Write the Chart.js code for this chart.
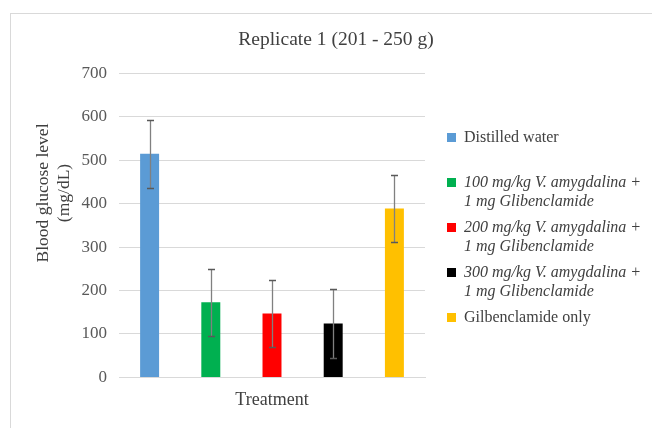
<!DOCTYPE html>
<html>
<head>
<meta charset="utf-8">
<script src="https://cdn.jsdelivr.net/npm/chart.js@4.4.0/dist/chart.umd.min.js"></script>
<style>
  html, body { margin: 0; padding: 0; background: #fff; }
  #wrap { position: relative; width: 652px; height: 428px; overflow: hidden; }
  #frame { position: absolute; left: 10px; top: 13px; width: 700px; height: 500px; border: 1px solid #d9d9d9; box-sizing: border-box; }
  #c { position: absolute; left: 0; top: 0; }
</style>
</head>
<body>
<div id="wrap">
  <div id="frame"></div>
  <canvas id="c" width="652" height="428"></canvas>
</div>
<script>
// data
const categories = [""];
const seriesLines = [
  ["Distilled water"],
  ["100 mg/kg V. amygdalina +", "1 mg Glibenclamide"],
  ["200 mg/kg V. amygdalina +", "1 mg Glibenclamide"],
  ["300 mg/kg V. amygdalina +", "1 mg Glibenclamide"],
  ["Gilbenclamide only"],
];
const seriesMeans = [515, 173, 147, 124, 389];
const seriesErrors = [78, 77, 78, 79, 77];
const yTicks = [0, 100, 200, 300, 400, 500, 600, 700];
const yTitleLines = ["Blood glucose level", "(mg/dL)"];

const colors = ["#5B9BD5", "#00B050", "#FF0000", "#000000", "#FFC000"];
const italicItems = [false, true, true, true, false];
const FONT = "'Liberation Serif', 'Times New Roman', serif";
const TEXT = "#404040";

// error bars from scale values
const errorBars = {
  id: "errorBars",
  afterDatasetsDraw(chart) {
    const ctx = chart.ctx;
    const y = chart.scales.y;
    ctx.save();
    chart.data.datasets.forEach((ds, i) => {
      const meta = chart.getDatasetMeta(i);
      meta.data.forEach((bar, j) => {
        const v = ds.data[j];
        const e = ds.errors[j];
        const top = Math.round(y.getPixelForValue(v + e)) + 0.5;
        const bot = Math.round(y.getPixelForValue(v - e)) + 0.5;
        const x = Math.round(bar.x) + 0.5;
        ctx.strokeStyle = "#808080";
        ctx.lineWidth = 1.3;
        ctx.beginPath();
        ctx.moveTo(x, top);
        ctx.lineTo(x, bot);
        ctx.stroke();
        ctx.strokeStyle = "#595959";
        ctx.beginPath();
        ctx.moveTo(x - 3.5, top);
        ctx.lineTo(x + 3.5, top);
        ctx.moveTo(x - 3.5, bot);
        ctx.lineTo(x + 3.5, bot);
        ctx.stroke();
      });
    });
    ctx.restore();
  },
};

// side legend with wrapped, partly italic labels
const sideLegend = {
  id: "sideLegend",
  afterDraw(chart) {
    const ctx = chart.ctx;
    const left = chart.chartArea.right + 22;
    ctx.save();
    ctx.textBaseline = "middle";
    ctx.textAlign = "left";
    chart.data.datasets.forEach((ds, i) => {
      const y0 = 137.5 + i * 45;
      ctx.fillStyle = ds.backgroundColor;
      ctx.fillRect(left, y0 - 4.5, 9, 9);
      ctx.fillStyle = TEXT;
      ctx.font = (ds.italic ? "italic " : "") + "16px " + FONT;
      ds.lines.forEach((line, k) => {
        ctx.fillText(line, left + 17, y0 + k * 19);
      });
    });
    ctx.restore();
  },
};

// two-line rotated y axis title
const yTitle = {
  id: "yTitle",
  afterDraw(chart) {
    const ctx = chart.ctx;
    const cx = chart.chartArea.left - 66;
    const cy = 193;
    ctx.save();
    ctx.translate(cx, cy);
    ctx.rotate(-Math.PI / 2);
    ctx.fillStyle = TEXT;
    ctx.font = "17.5px " + FONT;
    ctx.textAlign = "center";
    ctx.textBaseline = "middle";
    yTitleLines.forEach((line, k) => {
      ctx.fillText(line, 0, -10 + k * 21);
    });
    ctx.restore();
  },
};

const datasets = seriesLines.map((lines, i) => ({
  label: lines.join(" "),
  lines: lines,
  italic: italicItems[i],
  data: [seriesMeans[i]],
  errors: [seriesErrors[i]],
  backgroundColor: colors[i],
  borderWidth: 0,
  categoryPercentage: 1.0,
  barPercentage: 0.31,
}));

new Chart(document.getElementById("c"), {
  type: "bar",
  data: { labels: categories, datasets: datasets },
  options: {
    responsive: false,
    animation: false,
    layout: { padding: { left: 20, right: 0, top: 0, bottom: 17 } },
    plugins: {
      legend: { display: false },
      tooltip: { enabled: false },
      title: {
        display: true,
        text: "Replicate 1 (201 - 250 g)",
        color: TEXT,
        font: { family: FONT, size: 19.5, weight: "normal" },
        padding: { top: 28, bottom: 22 },
      },
    },
    scales: {
      x: {
        grid: { display: false, drawTicks: false },
        border: { display: true, color: "#d9d9d9" },
        ticks: { display: false },
        title: {
          display: true,
          text: "Treatment",
          color: TEXT,
          font: { family: FONT, size: 18 },
          padding: { top: 12, bottom: 0 },
        },
      },
      y: {
        min: 0,
        max: 700,
        afterFit(scale) { scale.width = 99; },
        afterBuildTicks(scale) { scale.ticks = yTicks.map((v) => ({ value: v })); },
        grid: { color: "#d9d9d9", lineWidth: 1, drawTicks: false },
        border: { display: false },
        ticks: {
          padding: 12,
          color: "#595959",
          font: { family: FONT, size: 17 },
        },
      },
      spacer: {
        type: "linear",
        position: "right",
        display: true,
        afterFit(scale) { scale.width = 227; },
        grid: { display: false, drawTicks: false },
        border: { display: false },
        ticks: { display: false },
      },
    },
  },
  plugins: [errorBars, sideLegend, yTitle],
});
</script>
</body>
</html>
